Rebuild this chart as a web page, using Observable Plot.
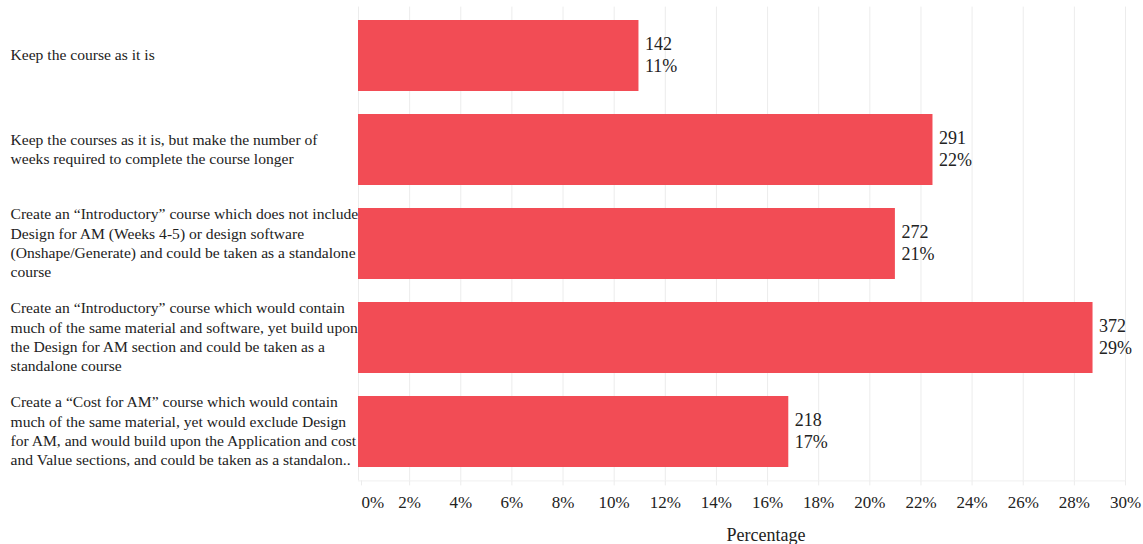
<!DOCTYPE html>
<html>
<head>
<meta charset="utf-8">
<script src="https://cdn.jsdelivr.net/npm/d3@7"></script>
<script src="https://cdn.jsdelivr.net/npm/@observablehq/plot@0.6"></script>
<style>
  html, body { margin: 0; padding: 0; background: #fff; }
  #chart { width: 1143px; height: 544px; }
</style>
</head>
<body>
<div id="chart"></div>
<script>
const categories = [
  "Keep the course as it is",
  "Keep the courses as it is, but make the number of\nweeks required to complete the course longer",
  "Create an \u201cIntroductory\u201d course which does not include\nDesign for AM (Weeks 4-5) or design software\n(Onshape/Generate) and could be taken as a standalone\ncourse",
  "Create an \u201cIntroductory\u201d course which would contain\nmuch of the same material and software, yet build upon\nthe Design for AM section and could be taken as a\nstandalone course",
  "Create a \u201cCost for AM\u201d course which would contain\nmuch of the same material, yet would exclude Design\nfor AM, and would build upon the Application and cost\nand Value sections, and could be taken as a standalon.."
];
const counts = [142, 291, 272, 372, 218];
const percents = [10.97, 22.47, 21.00, 28.73, 16.83];
const percentLabels = ["11%", "22%", "21%", "29%", "17%"];
const xTicks = [0, 2, 4, 6, 8, 10, 12, 14, 16, 18, 20, 22, 24, 26, 28, 30];

const data = categories.map((c, i) => ({
  cat: c, count: counts[i], pct: percents[i], label: percentLabels[i]
}));

const chart = Plot.plot({
  width: 1143,
  height: 544,
  marginLeft: 358,
  marginRight: 18,
  marginTop: 6.6,
  marginBottom: 63.6,
  style: { fontFamily: "'Liberation Serif', 'Times New Roman', serif", color: "#222", background: "#fff" },
  x: { domain: [0, 30] },
  y: { domain: categories, paddingInner: 0.245, paddingOuter: 0.12 },
  marks: [
    Plot.gridX(xTicks, { stroke: "#ececec", strokeOpacity: 1 }),
    Plot.frame({ anchor: "bottom", stroke: "#f0f0f0" }),
    Plot.barX(data, { x: "pct", y: "cat", fill: "#f24c55" }),
    Plot.text(data, {
      x: "pct", y: "cat",
      text: d => `${d.count}\n${d.label}`,
      textAnchor: "start", dx: 6, dy: -2, fontSize: 18, lineHeight: 1.24, fill: "#222"
    }),
    Plot.axisY({
      tickSize: 0, tickPadding: 348, textAnchor: "start", dy: -2,
      fontSize: 15.6, lineHeight: 1.24, label: null, fill: "#222"
    }),
    Plot.axisX(xTicks.filter(t => t > 0), {
      tickSize: 5, tickPadding: 10, stroke: "#ececec", fill: "#222",
      fontSize: 17, tickFormat: d => d + "%", label: null
    }),
    Plot.axisX([0], {
      tickSize: 5, tickPadding: 10, stroke: "#ececec", fill: "#222",
      fontSize: 17, tickFormat: d => d + "%", label: null, textAnchor: "start", dx: 3
    }),
    Plot.text(["Percentage"], {
      frameAnchor: "bottom", text: d => d, dx: 24, dy: 54,
      lineAnchor: "middle", fontSize: 18, fill: "#222"
    })
  ]
});
document.getElementById("chart").appendChild(chart);
</script>
</body>
</html>
